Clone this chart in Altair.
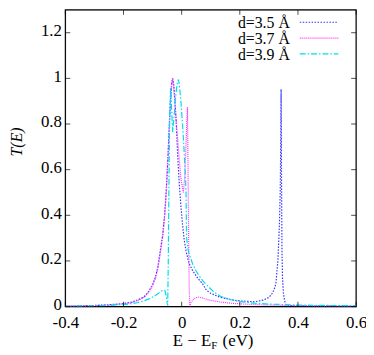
import altair as alt
import pandas as pd

# ---- data ----
E_35 = [-0.40, -0.35, -0.30, -0.25, -0.20, -0.17, -0.15, -0.13, -0.115, -0.105, -0.099, -0.09,
        -0.082, -0.074, -0.065, -0.058, -0.053, -0.047, -0.042, -0.037, -0.034, -0.031, -0.027,
        -0.023, -0.019, -0.014, -0.008, -0.002, 0.003, 0.009, 0.015, 0.025, 0.038, 0.055, 0.072,
        0.085, 0.10, 0.13, 0.17, 0.20, 0.25, 0.28, 0.30, 0.31, 0.318, 0.324, 0.331, 0.336, 0.339,
        0.341, 0.342, 0.343, 0.344, 0.345, 0.347, 0.350, 0.354, 0.358, 0.365, 0.40, 0.50, 0.60]
T_35 = [0.002, 0.003, 0.005, 0.008, 0.013, 0.02, 0.03, 0.042, 0.063, 0.085, 0.10, 0.13,
        0.173, 0.24, 0.317, 0.41, 0.51, 0.66, 0.815, 0.93, 0.98, 1.0, 0.97,
        0.90, 0.815, 0.67, 0.533, 0.43, 0.36, 0.29, 0.244, 0.19, 0.157, 0.125, 0.10,
        0.072, 0.058, 0.042, 0.03, 0.025, 0.021, 0.028, 0.04, 0.055, 0.075, 0.10, 0.20, 0.35, 0.50,
        0.75, 0.953, 0.70, 0.45, 0.25, 0.12, 0.06, 0.025, 0.008, 0.004, 0.003, 0.002, 0.001]

E_37 = [-0.40, -0.30, -0.25, -0.20, -0.17, -0.15, -0.13, -0.115, -0.099, -0.09, -0.082, -0.074,
        -0.065, -0.058, -0.053, -0.047, -0.042, -0.037, -0.034, -0.031, -0.027, -0.022, -0.018,
        -0.014, -0.008, -0.002, 0.006, 0.010, 0.014, 0.017, 0.020, 0.022, 0.024, 0.026, 0.028,
        0.033, 0.043, 0.055, 0.07, 0.085, 0.10, 0.133, 0.17, 0.20, 0.25, 0.30, 0.40, 0.50, 0.60]
T_37 = [0.002, 0.004, 0.007, 0.012, 0.018, 0.027, 0.04, 0.06, 0.095, 0.125, 0.165, 0.23,
        0.31, 0.40, 0.50, 0.65, 0.80, 0.93, 0.98, 1.0, 0.96, 0.87, 0.80,
        0.74, 0.64, 0.555, 0.50, 0.56, 0.68, 0.78, 0.873, 0.60, 0.30, 0.08, 0.0,
        0.02, 0.035, 0.042, 0.038, 0.032, 0.027, 0.02, 0.015, 0.012, 0.009, 0.007, 0.004, 0.003, 0.002]

E_39 = [-0.40, -0.35, -0.30, -0.25, -0.20, -0.17, -0.15, -0.13, -0.11, -0.095, -0.085, -0.075,
        -0.067, -0.061, -0.057, -0.053, -0.050, -0.048, -0.046, -0.044, -0.041, -0.038, -0.034,
        -0.031, -0.027, -0.020, -0.015, -0.011, -0.007, -0.002, 0.004, 0.009, 0.013, 0.015, 0.017,
        0.022, 0.026, 0.037, 0.049, 0.06, 0.072, 0.094, 0.11, 0.133, 0.17, 0.20, 0.25, 0.30, 0.40,
        0.50, 0.60]
T_39 = [0.001, 0.002, 0.003, 0.005, 0.009, 0.013, 0.018, 0.025, 0.035, 0.045, 0.053, 0.063,
        0.07, 0.073, 0.068, 0.045, 0.015, 0.005, 0.2, 0.5, 0.85, 0.96, 0.85,
        0.765, 0.82, 0.93, 0.98, 0.995, 0.96, 0.89, 0.78, 0.67, 0.57, 0.50, 0.30,
        0.25, 0.23, 0.19, 0.157, 0.135, 0.114, 0.085, 0.065, 0.045, 0.03, 0.022, 0.015, 0.011, 0.007,
        0.005, 0.004]

labels = ["d=3.5 Å", "d=3.7 Å", "d=3.9 Å"]
colors = ["#3535ff", "#ff33ff", "#00dcec"]
dashes = [[1.5, 1.5], [1, 1], [6, 2, 1.5, 2]]

x_ticks = [-0.4, -0.2, 0, 0.2, 0.4, 0.6]
y_ticks = [0, 0.2, 0.4, 0.6, 0.8, 1, 1.2]

FONT = "Liberation Serif"
FS = 17
W, H = 294, 300

xs = alt.Scale(domain=[-0.4, 0.6], nice=False, zero=False)
ys = alt.Scale(domain=[0, 1.3], nice=False, zero=False)

xaxis = alt.Axis(values=x_ticks, labelExpr="toString(datum.value)", title=None,
                 grid=False, domain=False, ticks=False, labelPadding=8,
                 labelFont=FONT, labelFontSize=FS, labelColor="black", labelFlush=False)
yaxis = alt.Axis(values=y_ticks, labelExpr="toString(datum.value)", title="T(E)",
                 grid=False, domain=False, ticks=False, labelPadding=4, labelOffset=-2,
                 labelFont=FONT, labelFontSize=FS, labelColor="black",
                 titleFont=FONT, titleFontSize=16, titleFontStyle="italic",
                 titleFontWeight="normal", titleColor="black", titleX=-44, titleY=133,
                 titleBaseline="alphabetic", titleAngle=270)

X = lambda f: alt.X(f, scale=xs, axis=xaxis)
Y = lambda f: alt.Y(f, scale=ys, axis=yaxis)

layers = []
# frame
layers.append(alt.Chart(pd.DataFrame({"a": [0]})).mark_rect(
    fill=None, stroke="black", strokeWidth=1.2
).encode(x=alt.value(0), x2=alt.value(W), y=alt.value(0), y2=alt.value(H)))

series = [(E_35, T_35), (E_37, T_37), (E_39, T_39)]
for i, (E, T) in enumerate(series):
    df = pd.DataFrame({"E": E, "T": T})
    layers.append(alt.Chart(df).mark_line(color=colors[i], strokeDash=dashes[i],
                                          strokeWidth=1.2, clip=True).encode(x=X("E:Q"), y=Y("T:Q")))

# inward ticks on all four sides
xt = pd.DataFrame({"v": x_ticks})
yt = pd.DataFrame({"v": y_ticks})
TS = 5
layers.append(alt.Chart(xt).mark_tick(orient="vertical", size=TS, thickness=1, color="black",
                                      yOffset=-TS / 2).encode(x=X("v:Q"), y=alt.value(H)))
layers.append(alt.Chart(xt).mark_tick(orient="vertical", size=TS, thickness=1, color="black",
                                      yOffset=TS / 2).encode(x=X("v:Q"), y=alt.value(0)))
layers.append(alt.Chart(yt).mark_tick(orient="horizontal", size=TS, thickness=1, color="black",
                                      xOffset=TS / 2).encode(y=Y("v:Q"), x=alt.value(0)))
layers.append(alt.Chart(yt).mark_tick(orient="horizontal", size=TS, thickness=1, color="black",
                                      xOffset=-TS / 2).encode(y=Y("v:Q"), x=alt.value(W)))

# legend (gnuplot style, inside top right)
ly = [12.5, 28.5, 44.5]
LFS = 16
for i in range(3):
    layers.append(alt.Chart(pd.DataFrame({"t": [labels[i]]})).mark_text(
        align="right", baseline="middle", font=FONT, fontSize=LFS, color="black"
    ).encode(text="t:N", x=alt.value(227), y=alt.value(ly[i] + 1)))
    layers.append(alt.Chart(pd.DataFrame({"t": [labels[i]]})).mark_rule(
        color=colors[i], strokeDash=dashes[i], strokeWidth=1.2
    ).encode(x=alt.value(237), x2=alt.value(276), y=alt.value(ly[i])))

# x-axis title with subscript F
layers.append(alt.Chart(pd.DataFrame({"t": ["E − E"]})).mark_text(
    align="right", baseline="alphabetic", font=FONT, fontSize=FS, color="black"
).encode(text="t:N", x=alt.value(147.5), y=alt.value(340)))
layers.append(alt.Chart(pd.DataFrame({"t": ["F"]})).mark_text(
    align="left", baseline="alphabetic", font=FONT, fontSize=11, color="black"
).encode(text="t:N", x=alt.value(147.5), y=alt.value(343)))
layers.append(alt.Chart(pd.DataFrame({"t": ["(eV)"]})).mark_text(
    align="left", baseline="alphabetic", font=FONT, fontSize=FS, color="black"
).encode(text="t:N", x=alt.value(159), y=alt.value(340)))

chart = alt.layer(*layers).properties(
    width=W, height=H,
    autosize=alt.AutoSizeParams(type="none"),
    padding={"left": 58, "top": 0, "right": 10, "bottom": 45},
).configure_view(stroke=None).configure(background="white")

chart.save("out.html", embed_options={"renderer": "svg", "actions": False})
